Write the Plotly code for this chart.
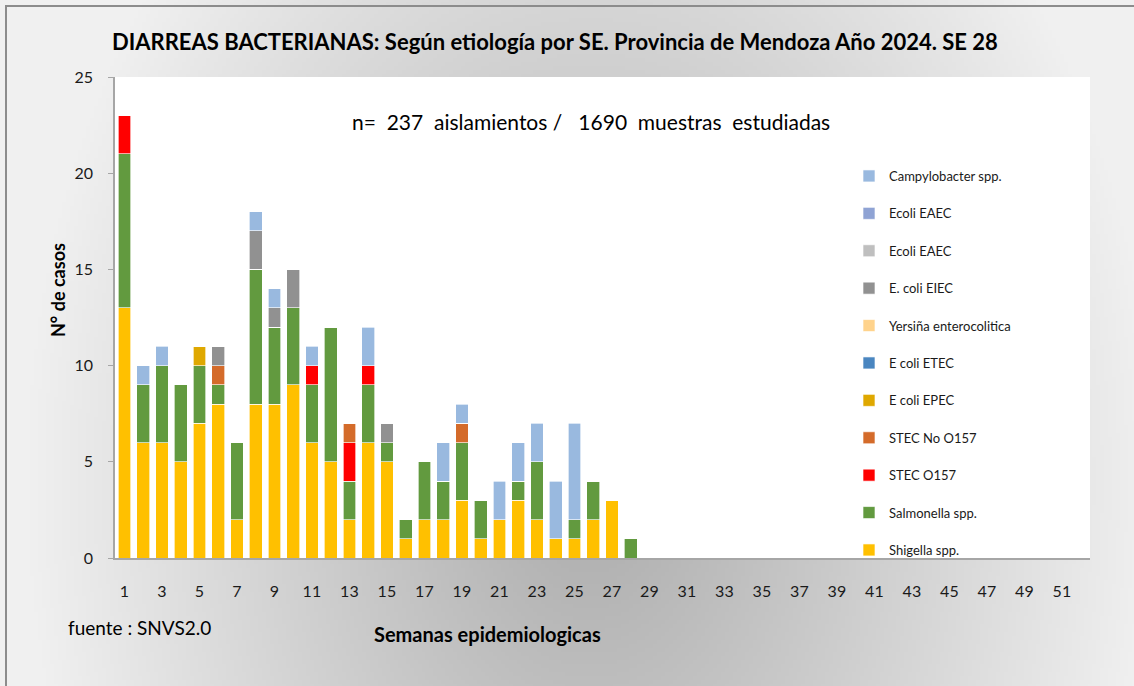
import base64, struct, zlib
import numpy as np
import plotly.graph_objects as go

# ---------------- data ----------------
weeks = [1, 2, 3, 4, 5, 6, 7, 8, 9, 10, 11, 12, 13, 14, 15, 16, 17, 18, 19, 20, 21, 22, 23, 24, 25, 26, 27, 28]
shigella = [13, 6, 6, 5, 7, 8, 2, 8, 8, 9, 6, 5, 2, 6, 5, 1, 2, 2, 3, 1, 2, 3, 2, 1, 1, 2, 3, 0]
salmonella = [8, 3, 4, 4, 3, 1, 4, 7, 4, 4, 3, 7, 2, 3, 1, 1, 3, 2, 3, 2, 0, 1, 3, 0, 1, 2, 0, 1]
stec_o157 = [2, 0, 0, 0, 0, 0, 0, 0, 0, 0, 1, 0, 2, 1, 0, 0, 0, 0, 0, 0, 0, 0, 0, 0, 0, 0, 0, 0]
stec_no_o157 = [0, 0, 0, 0, 0, 1, 0, 0, 0, 0, 0, 0, 1, 0, 0, 0, 0, 0, 1, 0, 0, 0, 0, 0, 0, 0, 0, 0]
ecoli_epec = [0, 0, 0, 0, 1, 0, 0, 0, 0, 0, 0, 0, 0, 0, 0, 0, 0, 0, 0, 0, 0, 0, 0, 0, 0, 0, 0, 0]
ecoli_etec = [0, 0, 0, 0, 0, 0, 0, 0, 0, 0, 0, 0, 0, 0, 0, 0, 0, 0, 0, 0, 0, 0, 0, 0, 0, 0, 0, 0]
yersinia = [0, 0, 0, 0, 0, 0, 0, 0, 0, 0, 0, 0, 0, 0, 0, 0, 0, 0, 0, 0, 0, 0, 0, 0, 0, 0, 0, 0]
ecoli_eiec = [0, 0, 0, 0, 0, 1, 0, 2, 1, 2, 0, 0, 0, 0, 1, 0, 0, 0, 0, 0, 0, 0, 0, 0, 0, 0, 0, 0]
ecoli_eaec_gray = [0, 0, 0, 0, 0, 0, 0, 0, 0, 0, 0, 0, 0, 0, 0, 0, 0, 0, 0, 0, 0, 0, 0, 0, 0, 0, 0, 0]
ecoli_eaec_blue = [0, 0, 0, 0, 0, 0, 0, 0, 0, 0, 0, 0, 0, 0, 0, 0, 0, 0, 0, 0, 0, 0, 0, 0, 0, 0, 0, 0]
campylobacter = [0, 1, 1, 0, 0, 0, 0, 1, 1, 0, 1, 0, 0, 2, 0, 0, 0, 2, 1, 0, 2, 2, 2, 3, 5, 0, 0, 0]

tick_weeks = [1, 3, 5, 7, 9, 11, 13, 15, 17, 19, 21, 23, 25, 27, 29, 31, 33, 35, 37, 39,
              41, 43, 45, 47, 49, 51]
y_ticks = [0, 5, 10, 15, 20, 25]

series = [
    ("Shigella spp.", shigella, "#FFC000"),
    ("Salmonella spp.", salmonella, "#629A3F"),
    ("STEC O157", stec_o157, "#FF0000"),
    ("STEC No O157", stec_no_o157, "#D46B2A"),
    ("E coli EPEC", ecoli_epec, "#DFA800"),
    ("E coli ETEC", ecoli_etec, "#4A86C0"),
    ("Yersiña enterocolitica", yersinia, "#FFD38C"),
    ("E. coli EIEC", ecoli_eiec, "#919191"),
    ("Ecoli EAEC", ecoli_eaec_gray, "#BFBFBF"),
    ("Ecoli EAEC", ecoli_eaec_blue, "#8FA3D4"),
    ("Campylobacter spp.", campylobacter, "#99B9DF"),
]

# ---------------- geometry ----------------
W, H = 1134, 686
L, R, T, B = 115, 1090, 77, 558
PW, PH = R - L, B - T


def px(x):
    return (x - L) / PW


def py(y):
    return (B - y) / PH


FONT = "Lato"

# ---------------- background gradient image ----------------
gw, gh = 284, 172
yy, xx = np.mgrid[0:gh, 0:gw]
X = (xx + 0.5) * W / gw
Y = (yy + 0.5) * H / gh
rr = np.sqrt(((X - 590) / 560) ** 2 + ((Y - 480) / 780) ** 2)
val = np.clip(172 + (240 - 172) * np.clip(rr, 0, 1), 0, 255).astype(np.uint8)
raw = b"".join(b"\x00" + val[i].tobytes() for i in range(gh))


def _chunk(t, d):
    return struct.pack(">I", len(d)) + t + d + struct.pack(">I", zlib.crc32(t + d) & 0xFFFFFFFF)


png = (b"\x89PNG\r\n\x1a\n" + _chunk(b"IHDR", struct.pack(">IIBBBBB", gw, gh, 8, 0, 0, 0, 0))
       + _chunk(b"IDAT", zlib.compress(raw, 9)) + _chunk(b"IEND", b""))
bg_uri = "data:image/png;base64," + base64.b64encode(png).decode()

# ---------------- figure ----------------
fig = go.Figure()
for i, (name, vals, color) in enumerate(series):
    fig.add_trace(go.Bar(
        x=weeks, y=vals, name=name, legendgroup=f"g{i}", legendrank=1000 - 10 * i,
        marker=dict(color=color, line=dict(color="rgba(255,255,255,0.8)", width=0.8)),
    ))

fig.update_layout(
    width=W, height=H,
    margin=dict(l=L, r=W - R, t=T, b=H - B),
    barmode="stack", bargap=0.32,
    paper_bgcolor="#E6E6E6", plot_bgcolor="white",
    font=dict(family=FONT, color="#1a1a1a"),
    showlegend=True,
    legend=dict(
        x=px(849), y=py(161), xanchor="left", yanchor="top",
        traceorder="grouped", tracegroupgap=17.5,
        font=dict(size=13, family=FONT, color="#1a1a1a"),
        bgcolor="rgba(0,0,0,0)", itemwidth=30,
    ),
    xaxis=dict(
        range=[0.5, 52.5], tickmode="array", tickvals=tick_weeks,
        ticktext=[str(t) for t in tick_weeks], ticks="", showgrid=False,
        showline=True, linecolor="#A6A6A6", linewidth=1.5,
        tickfont=dict(size=16, family=FONT, color="#1a1a1a"),
        ticklabelstandoff=18, zeroline=False,
    ),
    yaxis=dict(
        range=[0, 25], tickmode="array", tickvals=y_ticks, ticks="outside",
        ticklen=5, tickcolor="#A6A6A6", showgrid=False, showline=True,
        linecolor="#A6A6A6", linewidth=1.5, zeroline=False,
        tickfont=dict(size=16, family=FONT, color="#1a1a1a"), ticklabelstandoff=12,
    ),
    images=[dict(
        source=bg_uri, xref="paper", yref="paper",
        x=px(0), y=py(0), sizex=W / PW, sizey=H / PH,
        xanchor="left", yanchor="top", sizing="stretch", layer="below",
    )],
    shapes=[
        dict(type="rect", xref="paper", yref="paper", x0=0, x1=1, y0=0, y1=1,
             fillcolor="white", line=dict(width=0), layer="below"),
        dict(type="rect", xref="paper", yref="paper", x0=px(6), x1=px(1140),
             y0=py(6), y1=py(700), fillcolor="rgba(0,0,0,0)",
             line=dict(color="#8C8C8C", width=2), layer="above"),
    ],
    annotations=[
        dict(text="<b>DIARREAS BACTERIANAS: Según etiología por SE. Provincia de Mendoza Año 2024. SE 28</b>",
             xref="paper", yref="paper", x=px(555), y=py(41), xanchor="center", yanchor="middle",
             showarrow=False, font=dict(size=22, family=FONT, color="#000000")),
        dict(text="n=\u00a0 237\u00a0 aislamientos /\u00a0\u00a0 1690\u00a0 muestras\u00a0 estudiadas",
             xref="paper", yref="paper", x=px(591), y=py(122), xanchor="center", yanchor="middle",
             showarrow=False, font=dict(size=21, family=FONT, color="#000000")),
        dict(text="<b>N° de casos</b>", textangle=-90,
             xref="paper", yref="paper", x=px(58), y=py(290), xanchor="center", yanchor="middle",
             showarrow=False, font=dict(size=18, family=FONT, color="#000000")),
        dict(text="<b>Semanas epidemiologicas</b>",
             xref="paper", yref="paper", x=px(487), y=py(634), xanchor="center", yanchor="middle",
             showarrow=False, font=dict(size=20, family=FONT, color="#000000")),
        dict(text="fuente : SNVS2.0",
             xref="paper", yref="paper", x=px(66), y=py(627), xanchor="left", yanchor="middle",
             showarrow=False, font=dict(size=19, family=FONT, color="#000000")),
    ],
)

fig.write_html("out.html", config={"displayModeBar": False},
               post_script="document.body.style.margin='0';")
